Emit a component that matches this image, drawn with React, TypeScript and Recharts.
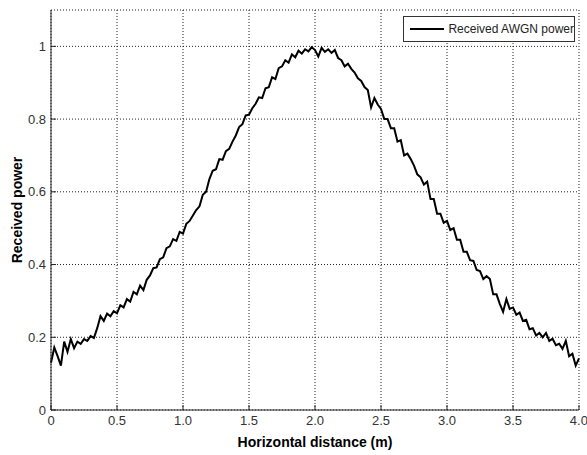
import { CartesianGrid, Line, LineChart, XAxis, YAxis } from "recharts";

const FONT = '"Liberation Sans", Arial, Helvetica, sans-serif';

// horizontal distance (m)
const distance = [
  0.0, 0.025, 0.05, 0.075, 0.1, 0.125, 0.15, 0.175, 0.2, 0.225, 0.25, 0.275, 0.3, 0.325, 0.35, 0.375,
  0.4, 0.425, 0.45, 0.475, 0.5, 0.525, 0.55, 0.575, 0.6, 0.625, 0.65, 0.675, 0.7, 0.725, 0.75, 0.775,
  0.8, 0.825, 0.85, 0.875, 0.9, 0.925, 0.95, 0.975, 1.0, 1.025, 1.05, 1.075, 1.1, 1.125, 1.15, 1.175,
  1.2, 1.225, 1.25, 1.275, 1.3, 1.325, 1.35, 1.375, 1.4, 1.425, 1.45, 1.475, 1.5, 1.525, 1.55, 1.575,
  1.6, 1.625, 1.65, 1.675, 1.7, 1.725, 1.75, 1.775, 1.8, 1.825, 1.85, 1.875, 1.9, 1.925, 1.95, 1.975,
  2.0, 2.025, 2.05, 2.075, 2.1, 2.125, 2.15, 2.175, 2.2, 2.225, 2.25, 2.275, 2.3, 2.325, 2.35, 2.375,
  2.4, 2.425, 2.45, 2.475, 2.5, 2.525, 2.55, 2.575, 2.6, 2.625, 2.65, 2.675, 2.7, 2.725, 2.75, 2.775,
  2.8, 2.825, 2.85, 2.875, 2.9, 2.925, 2.95, 2.975, 3.0, 3.025, 3.05, 3.075, 3.1, 3.125, 3.15, 3.175,
  3.2, 3.225, 3.25, 3.275, 3.3, 3.325, 3.35, 3.375, 3.4, 3.425, 3.45, 3.475, 3.5, 3.525, 3.55, 3.575,
  3.6, 3.625, 3.65, 3.675, 3.7, 3.725, 3.75, 3.775, 3.8, 3.825, 3.85, 3.875, 3.9, 3.925, 3.95, 3.975,
  4.0,
];

// received AWGN power (normalised)
const power = [
  0.13, 0.172, 0.148, 0.122, 0.188, 0.16, 0.195, 0.17, 0.188, 0.182, 0.195, 0.19, 0.203, 0.198, 0.225, 0.258,
  0.245, 0.265, 0.258, 0.272, 0.266, 0.288, 0.282, 0.305, 0.298, 0.325, 0.318, 0.342, 0.33, 0.358, 0.37, 0.39,
  0.392, 0.415, 0.42, 0.445, 0.45, 0.47, 0.465, 0.49, 0.485, 0.512, 0.52, 0.535, 0.55, 0.56, 0.592, 0.6,
  0.635, 0.658, 0.662, 0.69, 0.688, 0.712, 0.718, 0.738, 0.755, 0.778, 0.786, 0.81, 0.812, 0.83, 0.842, 0.86,
  0.858, 0.885, 0.888, 0.915, 0.91, 0.94, 0.945, 0.962, 0.955, 0.978, 0.97, 0.988, 0.98, 0.992, 0.986, 0.998,
  0.99, 0.972, 0.996, 0.985, 0.992, 0.982, 0.99, 0.968, 0.962, 0.945, 0.952, 0.938, 0.928, 0.912, 0.905, 0.888,
  0.88, 0.832, 0.858, 0.84, 0.828, 0.8, 0.8, 0.775, 0.775, 0.738, 0.742, 0.7, 0.705, 0.69, 0.672, 0.648,
  0.64, 0.62, 0.628, 0.58, 0.58, 0.54, 0.54, 0.515, 0.52, 0.495, 0.5, 0.468, 0.468, 0.435, 0.435, 0.412,
  0.41, 0.385, 0.382, 0.36, 0.368, 0.36, 0.318, 0.318, 0.292, 0.27, 0.305, 0.278, 0.282, 0.262, 0.268, 0.245,
  0.248, 0.222, 0.225, 0.205, 0.212, 0.2, 0.212, 0.19, 0.196, 0.178, 0.182, 0.168, 0.19, 0.148, 0.155, 0.122,
  0.142,
];

const xTicks = [0, 0.5, 1.0, 1.5, 2.0, 2.5, 3.0, 3.5, 4.0];
const yTicks = [0, 0.2, 0.4, 0.6, 0.8, 1];

const data = distance.map((d, i) => ({ x: d, p: power[i] }));

const tickStyle = { fontFamily: FONT, fontSize: 13, fill: "#333" };

const YLabel = (props) => {
  const vb = props.viewBox;
  const cy = vb.y + vb.height / 2;
  return (
    <text
      x={22}
      y={cy}
      transform={`rotate(-90, 22, ${cy})`}
      textAnchor="middle"
      fontFamily={FONT}
      fontSize={14}
      fontWeight="bold"
      fill="#000"
    >
      Received power
    </text>
  );
};

export default function App() {
  return (
    <div style={{ position: "absolute", left: 0, top: 0, width: 587, height: 455, background: "#fff" }}>
      <LineChart width={587} height={455} data={data} margin={{ top: 10, right: 8, bottom: 0, left: 0 }}>
        <CartesianGrid stroke="#222" strokeDasharray="1 2" />
        <XAxis
          dataKey="x"
          type="number"
          domain={[0, 4]}
          ticks={xTicks}
          height={45}
          stroke="#222"
          tickSize={-5}
          tickMargin={11}
          tick={tickStyle}
          tickFormatter={(v) => (v === 0 ? "0" : v.toFixed(1))}
          label={{
            value: "Horizontal distance (m)",
            position: "insideBottom",
            offset: 8,
            style: { fontFamily: FONT, fontSize: 14, fontWeight: "bold", fill: "#000" },
          }}
        />
        <XAxis
          xAxisId="top"
          orientation="top"
          dataKey="x"
          type="number"
          domain={[0, 4]}
          ticks={xTicks}
          height={0}
          stroke="#222"
          tickSize={-5}
          tickFormatter={() => ""}
        />
        <YAxis
          type="number"
          domain={[0, 1.1]}
          ticks={yTicks}
          width={51}
          stroke="#222"
          tickSize={-5}
          tickMargin={10}
          tick={tickStyle}
          tickFormatter={(v) => String(v)}
          label={{ content: YLabel }}
        />
        <YAxis
          yAxisId="right"
          orientation="right"
          type="number"
          domain={[0, 1.1]}
          ticks={yTicks}
          width={0}
          stroke="#222"
          tickSize={-5}
          tickFormatter={() => ""}
        />
        <Line
          type="linear"
          dataKey="p"
          stroke="#000"
          strokeWidth={2}
          dot={false}
          isAnimationActive={false}
        />
      </LineChart>
      <div
        style={{
          position: "absolute",
          left: 403,
          top: 16,
          width: 172,
          height: 26,
          border: "1px solid #333",
          background: "#fff",
          boxSizing: "border-box",
          display: "flex",
          alignItems: "center",
          whiteSpace: "nowrap",
          fontFamily: FONT,
          fontSize: 12,
          color: "#222",
        }}
      >
        <span style={{ display: "inline-block", width: 35, height: 2, background: "#000", marginLeft: 6, marginRight: 4 }} />
        <span>Received AWGN power</span>
      </div>
    </div>
  );
}
